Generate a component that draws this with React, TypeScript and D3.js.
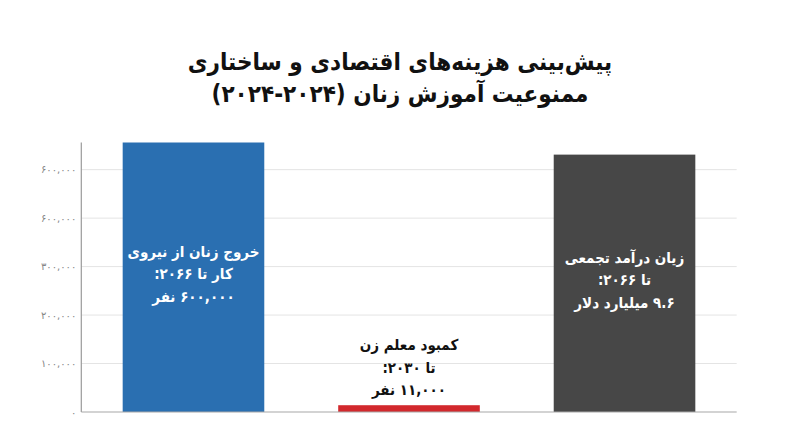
import * as d3 from "d3";

const categories = ["workforce", "teachers", "income"];
const values = [556000, 14000, 531000];
const tickValues = [0, 100000, 200000, 300000, 400000, 500000];
const tickLabels = ["۰", "۱۰۰,۰۰۰", "۲۰۰,۰۰۰", "۳۰۰,۰۰۰", "۶۰۰,۰۰۰", "۶۰۰,۰۰۰"];
const titleLines = [
  "پیش‌بینی هزینه‌های اقتصادی و ساختاری",
  "ممنوعیت آموزش زنان (۲۰۲۴-۲۰۲۴)",
];
const barLabels = [
  ["خروج زنان از نیروی", "کار تا ۲۰۶۶:", "۶۰۰,۰۰۰ نفر"],
  ["کمبود معلم زن", "تا ۲۰۳۰:", "۱۱,۰۰۰ نفر"],
  ["زیان درآمد تجمعی", "تا ۲۰۶۶:", "۹.۶ میلیارد دلار"],
];

const barColors: Record<string, string> = {
  workforce: "#2a6fb1",
  teachers: "#d2282d",
  income: "#474747",
};

const W = 800;
const H = 447;
const left = 81.3;
const right = 736.7;
const bottom = 412;
const top = 142.5;
const font = "'DejaVu Sans Condensed', 'DejaVu Sans', sans-serif";

export default function App() {
  const x = d3
    .scaleBand<string>()
    .domain(categories)
    .range([left, right])
    .paddingInner(0.343)
    .paddingOuter(0.192);

  const y = d3.scaleLinear().domain([0, d3.max(values) as number]).range([bottom, top]);

  const lineGap = 22.5;

  return (
    <svg
      width={W}
      height={H}
      style={{ position: "absolute", left: 0, top: 0, background: "#fff" }}
    >
      {titleLines.map((t, i) => (
        <text
          key={i}
          x={W / 2}
          y={70 + i * 32}
          textAnchor="middle"
          direction="rtl"
          fontFamily={font}
          fontWeight="bold"
          fontSize={24}
          fill="#111"
        >
          {t}
        </text>
      ))}

      {tickValues.slice(1).map((t) => (
        <line key={t} x1={left} x2={right} y1={y(t)} y2={y(t)} stroke="#e4e4e4" strokeWidth={1} />
      ))}

      {tickValues.map((t, i) => (
        <text
          key={t}
          x={left - 5}
          y={y(t)}
          dy="0.35em"
          textAnchor="end"
          fontFamily="'DejaVu Sans', sans-serif"
          fontSize={10}
          fill="#858585"
        >
          {tickLabels[i]}
        </text>
      ))}

      {categories.map((c, i) => (
        <rect
          key={c}
          x={x(c)}
          y={y(values[i])}
          width={x.bandwidth()}
          height={bottom - y(values[i])}
          fill={barColors[c]}
        />
      ))}

      <line x1={left} x2={left} y1={top} y2={bottom} stroke="#9a9a9a" strokeWidth={1.2} />
      <line x1={left} x2={right} y1={bottom} y2={bottom} stroke="#a8a8a8" strokeWidth={1.2} />

      {categories.map((c, i) => {
        const cx = (x(c) as number) + x.bandwidth() / 2;
        const barH = bottom - y(values[i]);
        const inside = barH > 100;
        // inside tall bars the block is centred, on the short bar it sits above
        const midY = inside ? (y(values[i]) + bottom) / 2 + 2 : y(values[i]) - 10 - lineGap;
        return (
          <g key={c}>
            {barLabels[i].map((line, j) => (
              <text
                key={j}
                x={cx}
                y={midY + (j - 1) * lineGap}
                textAnchor="middle"
                direction="rtl"
                fontFamily={font}
                fontWeight="bold"
                fontSize={15}
                fill={inside ? "#fff" : "#111"}
              >
                {line}
              </text>
            ))}
          </g>
        );
      })}
    </svg>
  );
}
